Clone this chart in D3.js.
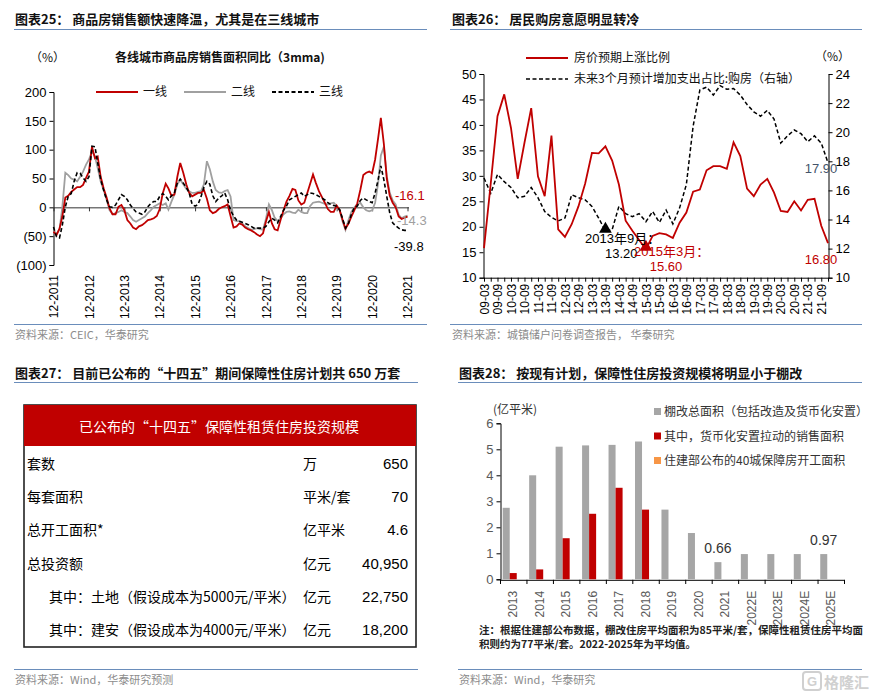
<!DOCTYPE html>
<html>
<head>
<meta charset="utf-8">
<title>Housing charts</title>
<script src="https://d3js.org/d3.v7.min.js"></script>
<style>
  body { margin: 0; background: #fff; }
  text { font-family: "Liberation Sans", "Noto Sans CJK SC", sans-serif; }
  .cn { font-family: "Noto Sans CJK SC", sans-serif; }
</style>
</head>
<body>
<svg id="chart" width="877" height="697"></svg>
<script>
// ---------- chart 25 data: monthly 12-2011 .. 12-2021, 3mma yoy (%) ----------
const tier1 = [-42,-48,-37,-16,17,20,27,31,35,35,
  39,51,62,105,85,88,53,33,17,-2,
  -12,-12,1,4,-5,-22,-28,-35,-38,-33,
  -31,-27,-22,-21,-19,-15,-3,24,41,33,
  20,22,53,77,60,40,25,19,22,25,
  25,30,15,-5,-10,-8,-3,0,2,5,
  -15,-35,-33,-28,-30,-35,-38,-40,-43,-47,
  -50,-45,-25,-8,-28,-38,-40,-22,-5,10,
  20,32,30,12,5,8,25,40,57,42,
  28,18,8,-3,-8,-8,3,-5,-22,-37,
  -28,-16,-5,7,30,56,60,62,59,83,
  120,155,110,50,20,8,0,-16,-20,-18,-16.1];
const tier2 = [-40,-46,-38,0,60,56,50,48,45,53,
  62,74,83,97,88,68,45,30,13,-5,
  -12,-10,-8,-5,-8,-10,-16,-22,-25,-22,
  -19,-16,-10,-5,1,4,7,4,7,-4,
  10,22,40,48,40,32,28,25,25,27,
  28,40,80,66,45,30,26,25,28,30,
  19,-22,-24,-24,-28,-33,-36,-39,-38,-36,
  -38,-39,-20,5,-5,-18,-24,-19,-12,-8,
  -7,-9,-10,-4,-8,-10,-10,2,8,9,
  10,8,6,5,7,8,2,-5,-25,-39,
  -22,-8,0,5,8,0,-5,-7,-5,8,
  42,90,105,54,25,12,5,-13,-19,-16,-14.3];
const tier3 = [-34,-51,-53,-31,1,19,24,45,60,59,
  51,45,53,106,105,77,48,30,13,1,
  0,4,13,22,19,13,4,-2,-8,-10,
  -12,-8,1,7,10,10,19,24,19,13,
  20,25,42,49,42,35,25,5,2,5,
  19,35,45,40,20,10,16,20,25,13,
  -5,-15,-22,-24,-26,-28,-30,-33,-36,-36,
  -36,-36,-33,-25,-19,-22,-27,-16,-5,2,
  13,16,19,22,25,19,22,25,24,22,
  19,16,13,8,5,3,2,-4,-20,-36,
  -28,-12,0,2,12,16,13,10,8,25,
  48,72,48,19,-10,-27,-32,-36,-39,-40,-39.8];
const yTicks25 = [200,150,100,50,0,-50,-100];

// ---------- chart 26 data: quarterly 09-03 .. 21-12 ----------
const priceExp = [15.8,28.5,41.7,46.0,39.4,29.4,36.5,43.3,29.9,26.0,
  37.9,19.5,18.0,20.5,24.0,28.5,34.5,34.4,35.8,33.0,
  28.3,21.2,19.2,17.4,15.6,18.2,18.75,18.5,17.8,20.8,
  22.8,26.9,27.3,31.1,31.9,31.9,31.4,36.6,33.9,27.5,
  26.0,28.3,29.4,26.7,23.1,22.9,25.0,23.2,25.3,25.5,
  20.2,16.8];
const housePlan = [16.85,15.8,17.1,16.6,16.2,15.5,15.6,16.2,15.5,14.55,
  14.15,13.9,14.1,15.7,15.5,15.35,14.9,14.1,13.2,13.3,
  14.9,14.4,14.2,14.4,13.85,14.55,13.8,14.65,13.7,14.8,
  16.4,20.4,22.9,23.1,22.55,23.2,22.95,23.0,22.55,21.9,
  21.4,21.1,21.5,20.9,19.25,19.75,20.15,19.9,19.35,19.75,
  19.25,17.9];
const years26 = d3.range(2009, 2022);
const quarters26 = ["03","06","09","12"];

// ---------- chart 27 table ----------
const tableRows = [
  ["套数", "万", "650", false],
  ["每套面积", "平米/套", "70", false],
  ["总开工面积*", "亿平米", "4.6", false],
  ["总投资额", "亿元", "40,950", false],
  ["其中：土地（假设成本为5000元/平米）", "亿元", "22,750", true],
  ["其中：建安（假设成本为4000元/平米）", "亿元", "18,200", true]
];

// ---------- chart 28 data ----------
const years28 = ["2013","2014","2015","2016","2017","2018","2019","2020","2021","2022E","2023E","2024E","2025E"];
const shantyTotal = [2.75,4.0,5.1,5.15,5.17,5.3,2.68,1.78,0.66,0.97,0.97,0.97,0.97];
const monetized = [0.24,0.38,1.58,2.52,3.52,2.68,null,null,null,null,null,null,null];
const cities40 = [null,null,null,null,null,null,null,null,null,null,null,null,null];
const series28 = ["棚改总面积（包括改造及货币化安置）","其中，货币化安置拉动的销售面积","住建部公布的40城保障房开工面积"];
const colors28 = ["#a6a6a6","#c00000","#f79646"];

const RED = "#c00000";
const BLUE = "#6a8dbb";
const svg = d3.select("#chart");

// common header/footer
function header(x, y, x1, x2, ly, txt) {
  svg.append("text").attr("class","cn").attr("x", x).attr("y", y)
    .attr("font-size", 13).attr("font-weight", "bold").attr("fill", "#111").text(txt);
  svg.append("line").attr("x1", x1).attr("x2", x2).attr("y1", ly).attr("y2", ly)
    .attr("stroke", BLUE).attr("stroke-width", 1.2);
}
function footer(x, y, x1, x2, ly, txt) {
  svg.append("line").attr("x1", x1).attr("x2", x2).attr("y1", ly).attr("y2", ly)
    .attr("stroke", BLUE).attr("stroke-width", 1.2);
  svg.append("text").attr("class","cn").attr("x", x).attr("y", y)
    .attr("font-size", 11).attr("fill", "#8c8c8c").text(txt);
}

// ================= chart 25 =================
header(15, 24, 14, 427, 29.5, "图表25：  商品房销售额快速降温，尤其是在三线城市");
svg.append("text").attr("class","cn").attr("x", 220).attr("y", 62).attr("text-anchor","middle")
  .attr("font-size", 12).attr("font-weight","bold").attr("fill","#111").text("各线城市商品房销售面积同比（3mma)");
svg.append("text").attr("class","cn").attr("x", 30).attr("y", 62).attr("font-size", 12).attr("fill","#111").text("（%）");

const months25 = tier1.map((d, i) => d3.timeMonth.offset(new Date(2011, 11, 1), i));
const x25 = d3.scaleTime().domain([months25[0], months25[months25.length - 1]]).range([53.5, 407.5]);
const y25 = d3.scaleLinear().domain([-100, 200]).range([265, 92]);

const gy25 = svg.append("g").attr("transform", "translate(53.5,0)")
  .call(d3.axisLeft(y25).tickValues(yTicks25).tickSize(4)
    .tickFormat(d => d < 0 ? "(" + (-d) + ")" : d));
gy25.select(".domain").attr("stroke", "#000");
gy25.selectAll("text").attr("font-size", 13).attr("fill", "#000").attr("font-family","Liberation Sans");

const gx25 = svg.append("g").attr("transform", `translate(0,${y25(0)})`)
  .call(d3.axisBottom(x25).tickSize(4)
    .tickValues(d3.range(2011, 2022).map(yy => new Date(yy, 11, 1)))
    .tickFormat(d3.timeFormat("%m-%Y")));
gx25.select(".domain").attr("d", `M53.5,0.5H409`).attr("stroke", "#333");
gx25.selectAll(".tick line").attr("stroke", "#333");
gx25.selectAll("text").attr("font-size", 12).attr("fill", "#000")
  .attr("transform", `translate(0,${275 - y25(0)}) rotate(-90)`)
  .attr("text-anchor", "end").attr("dy", "0.35em").attr("x", 0).attr("y", 0);

const line25 = arr => d3.line().x((d, i) => x25(months25[i])).y(d => y25(d))(arr);
svg.append("path").attr("d", line25(tier2)).attr("fill","none").attr("stroke","#a0a0a0").attr("stroke-width",1.8);
svg.append("path").attr("d", line25(tier1)).attr("fill","none").attr("stroke",RED).attr("stroke-width",1.8);
svg.append("path").attr("d", line25(tier3)).attr("fill","none").attr("stroke","#000").attr("stroke-width",1.6).attr("stroke-dasharray","4,2.5");

// end labels
const last = tier1.length - 1;
svg.append("text").attr("x", 395).attr("y", 200).attr("font-size", 13).attr("fill", RED).text(tier1[last]);
svg.append("text").attr("x", 397).attr("y", 225).attr("font-size", 13).attr("fill", "#a0a0a0").text(tier2[last]);
svg.append("text").attr("x", 394).attr("y", 251).attr("font-size", 13).attr("fill", "#000").text(tier3[last]);

// legend 25
const leg25 = [["一线", RED, null], ["二线", "#a0a0a0", null], ["三线", "#000", "4,2.5"]];
leg25.forEach((l, i) => {
  const lx = 96 + i * 88;
  svg.append("line").attr("x1", lx).attr("x2", lx + 42).attr("y1", 92).attr("y2", 92)
    .attr("stroke", l[1]).attr("stroke-width", 1.8).attr("stroke-dasharray", l[2]);
  svg.append("text").attr("class","cn").attr("x", lx + 47).attr("y", 96).attr("font-size", 12).attr("fill","#111").text(l[0]);
});

footer(15, 339, 14, 427, 324.5, "资料来源：CEIC，华泰研究");

// ================= chart 26 =================
header(452, 24, 450, 862, 29.5, "图表26：  居民购房意愿明显转冷");
const idx26 = d3.range(priceExp.length);
const qLabels = [];
years26.forEach(yy => quarters26.forEach(q => qLabels.push(String(yy).slice(2) + "-" + q)));
const x26 = d3.scaleLinear().domain([0, priceExp.length - 1]).range([484, 828]);
const yL = d3.scaleLinear().domain([10, 50]).range([277.7, 74]);
const yR = d3.scaleLinear().domain([10, 24]).range([277.7, 74]);

const gL = svg.append("g").attr("transform", "translate(483.5,0)")
  .call(d3.axisLeft(yL).ticks(8).tickSize(4));
gL.selectAll("text").attr("font-size", 13).attr("fill","#000");
gL.select(".domain").attr("stroke","#000");
const gR = svg.append("g").attr("transform", "translate(828.5,0)")
  .call(d3.axisRight(yR).tickValues([10,12,14,16,18,20,22,24]).tickSize(4));
gR.selectAll("text").attr("font-size", 13).attr("fill","#000");
gR.select(".domain").attr("stroke","#000");

const gx26 = svg.append("g").attr("transform", "translate(0,277.7)")
  .call(d3.axisBottom(x26).tickValues(idx26).tickSize(4)
    .tickFormat(i => i % 2 === 0 ? qLabels[i] : ""));
gx26.select(".domain").attr("d", "M483.5,0.5H828.5").attr("stroke","#000");
gx26.selectAll("text").attr("font-size", 12).attr("fill","#000")
  .attr("transform", "translate(0,6) rotate(-90)")
  .attr("text-anchor","end").attr("dy","0.35em").attr("x",0).attr("y",0);

svg.append("path").attr("d", d3.line().x((d, i) => x26(i)).y(d => yR(d))(housePlan))
  .attr("fill","none").attr("stroke","#000").attr("stroke-width",1.5).attr("stroke-dasharray","4,2.5");
svg.append("path").attr("d", d3.line().x((d, i) => x26(i)).y(d => yL(d))(priceExp))
  .attr("fill","none").attr("stroke",RED).attr("stroke-width",1.8);

// markers
const tri = d3.symbol().type(d3.symbolTriangle).size(70);
const iMinB = housePlan.indexOf(d3.min(housePlan.slice(0, 30)));
const iMinR = priceExp.indexOf(d3.min(priceExp.slice(10, 30)));
svg.append("path").attr("d", tri()).attr("transform", `translate(${x26(iMinB)},${yR(housePlan[iMinB]) - 2})`).attr("fill","#000");
svg.append("path").attr("d", tri()).attr("transform", `translate(${x26(iMinR)},${yL(priceExp[iMinR]) - 2})`).attr("fill",RED);
svg.append("text").attr("x", 585).attr("y", 243).attr("font-size", 13).attr("fill","#000").text("2013年9月：");
svg.append("text").attr("x", 605).attr("y", 258).attr("font-size", 13).attr("fill","#000").text(housePlan[iMinB].toFixed(2));
svg.append("text").attr("x", 634).attr("y", 256).attr("font-size", 13).attr("fill",RED).text("2015年3月：");
svg.append("text").attr("x", 666).attr("y", 271).attr("text-anchor","middle").attr("font-size", 13).attr("fill",RED).text(priceExp[iMinR].toFixed(2));
svg.append("text").attr("x", 821).attr("y", 264).attr("text-anchor","middle").attr("font-size", 13).attr("fill",RED).text(priceExp[priceExp.length-1].toFixed(2));
svg.append("text").attr("x", 821).attr("y", 173).attr("text-anchor","middle").attr("font-size", 13).attr("fill","#44546a").text(housePlan[housePlan.length-1].toFixed(2));

// legend 26
svg.append("line").attr("x1",526).attr("x2",568).attr("y1",58).attr("y2",58).attr("stroke",RED).attr("stroke-width",1.8);
svg.append("text").attr("class","cn").attr("x",574).attr("y",62).attr("font-size",12).attr("fill","#111").text("房价预期上涨比例");
svg.append("line").attr("x1",526).attr("x2",568).attr("y1",79).attr("y2",79).attr("stroke","#000").attr("stroke-width",1.5).attr("stroke-dasharray","4,2.5");
svg.append("text").attr("class","cn").attr("x",574).attr("y",83).attr("font-size",12).attr("fill","#111").text("未来3个月预计增加支出占比:购房（右轴）");
svg.append("text").attr("class","cn").attr("x",815).attr("y",61).attr("font-size",12).attr("fill","#111").text("（%）");

footer(452, 339, 450, 862, 324.5, "资料来源：城镇储户问卷调查报告，  华泰研究");

// ================= chart 27 =================
header(15, 378, 14, 418, 382.5, "图表27：  目前已公布的“十四五”期间保障性住房计划共 650 万套");
svg.append("rect").attr("x", 24).attr("y", 405).attr("width", 392).attr("height", 242)
  .attr("fill", "#fff").attr("stroke", "#222").attr("stroke-width", 1.6);
svg.append("rect").attr("x", 24).attr("y", 405).attr("width", 392).attr("height", 41).attr("fill", RED);
svg.append("text").attr("class","cn").attr("x", 219).attr("y", 432).attr("text-anchor","middle")
  .attr("font-size", 14).attr("fill", "#fff").text("已公布的“十四五”保障性租赁住房投资规模");
const rowY = d3.scaleLinear().domain([0, 5]).range([469, 635]);
tableRows.forEach((r, i) => {
  svg.append("text").attr("class","cn").attr("x", r[3] ? 49 : 27).attr("y", rowY(i))
    .attr("font-size", 14).attr("fill","#000").text(r[0]);
  svg.append("text").attr("class","cn").attr("x", 303).attr("y", rowY(i))
    .attr("font-size", 14).attr("fill","#000").text(r[1]);
  svg.append("text").attr("x", 408).attr("y", rowY(i)).attr("text-anchor","end")
    .attr("font-size", 15).attr("fill","#000").text(r[2]);
});
footer(15, 684, 14, 418, 669.5, "资料来源：Wind，华泰研究预测");

// ================= chart 28 =================
header(459, 378, 458, 862, 382.5, "图表28：  按现有计划，保障性住房投资规模将明显小于棚改");
const x28 = d3.scaleBand().domain(years28).range([500, 844]);
const xs28 = d3.scaleBand().domain([0, 1, 2]).range([2.7, x28.bandwidth() - 2.7]).paddingInner(0);
const y28 = d3.scaleLinear().domain([0, 6]).range([579.3, 423.3]);

const gy28 = svg.append("g").attr("transform","translate(500.5,0)")
  .call(d3.axisLeft(y28).ticks(6).tickSize(4));
gy28.selectAll("text").attr("font-size", 13).attr("fill","#595959");
gy28.select(".domain").attr("stroke","#000");
const gx28 = svg.append("g").attr("transform", "translate(0,579.8)")
  .call(d3.axisBottom(x28).tickSize(0));
gx28.select(".domain").attr("stroke","#000");
gx28.selectAll(".tick line").remove();
gx28.selectAll("text").attr("font-size", 12).attr("fill","#595959")
  .attr("transform", "translate(0,11) rotate(-90)")
  .attr("text-anchor","end").attr("dy","0.35em").attr("x",0).attr("y",0);
// boundary ticks
svg.append("g").selectAll("line").data(years28.concat(["end"])).join("line")
  .attr("x1", (d, i) => 500.5 + i * x28.bandwidth()).attr("x2", (d, i) => 500.5 + i * x28.bandwidth())
  .attr("y1", 579.8).attr("y2", 584).attr("stroke","#000");

[shantyTotal, monetized, cities40].forEach((arr, s) => {
  svg.append("g").selectAll("rect").data(arr.map((v, i) => ({ v, k: years28[i] })).filter(d => d.v != null))
    .join("rect")
    .attr("x", d => x28(d.k) + xs28(s))
    .attr("width", xs28.bandwidth())
    .attr("y", d => y28(d.v))
    .attr("height", d => y28(0) - y28(d.v))
    .attr("fill", colors28[s]);
});
svg.append("text").attr("x", x28("2021") + xs28(0) + xs28.bandwidth() / 2).attr("y", 553).attr("text-anchor","middle")
  .attr("font-size", 14).attr("fill","#333").text(shantyTotal[8].toFixed(2));
svg.append("text").attr("x", x28("2025E") + xs28(0) + xs28.bandwidth() / 2).attr("y", 545).attr("text-anchor","middle")
  .attr("font-size", 14).attr("fill","#333").text(shantyTotal[12].toFixed(2));
svg.append("text").attr("class","cn").attr("x", 493).attr("y", 414).attr("font-size", 12).attr("fill","#333").text("(亿平米)");

series28.forEach((s, i) => {
  svg.append("rect").attr("x", 654).attr("y", 408 + i * 24.5).attr("width", 7).attr("height", 7).attr("fill", colors28[i]);
  svg.append("text").attr("class","cn").attr("x", 664).attr("y", 416 + i * 24.5).attr("font-size", 12).attr("fill","#333").text(s);
});

svg.append("text").attr("class","cn").attr("x", 479).attr("y", 634).attr("font-size", 10.5).attr("font-weight","bold").attr("fill","#222")
  .text("注：根据住建部公布数据，棚改住房平均面积为85平米/套，保障性租赁住房平均面");
svg.append("text").attr("class","cn").attr("x", 479).attr("y", 648).attr("font-size", 10.5).attr("font-weight","bold").attr("fill","#222")
  .text("积则约为77平米/套。2022-2025年为平均值。");
footer(459, 684, 458, 862, 669.5, "资料来源：Wind，华泰研究");

// watermark
const wm = svg.append("g").attr("transform","translate(803,672)").attr("opacity",0.55);
wm.append("rect").attr("width",18).attr("height",18).attr("rx",3).attr("fill","none").attr("stroke","#aaa").attr("stroke-width",2);
wm.append("text").attr("x",9).attr("y",14).attr("text-anchor","middle").attr("font-size",13).attr("font-weight","bold").attr("fill","#aaa").text("G");
wm.append("text").attr("class","cn").attr("x",21).attr("y",15.5).attr("font-size",15).attr("font-weight","bold").attr("fill","#aaa").text("格隆汇");
</script>
</body>
</html>
